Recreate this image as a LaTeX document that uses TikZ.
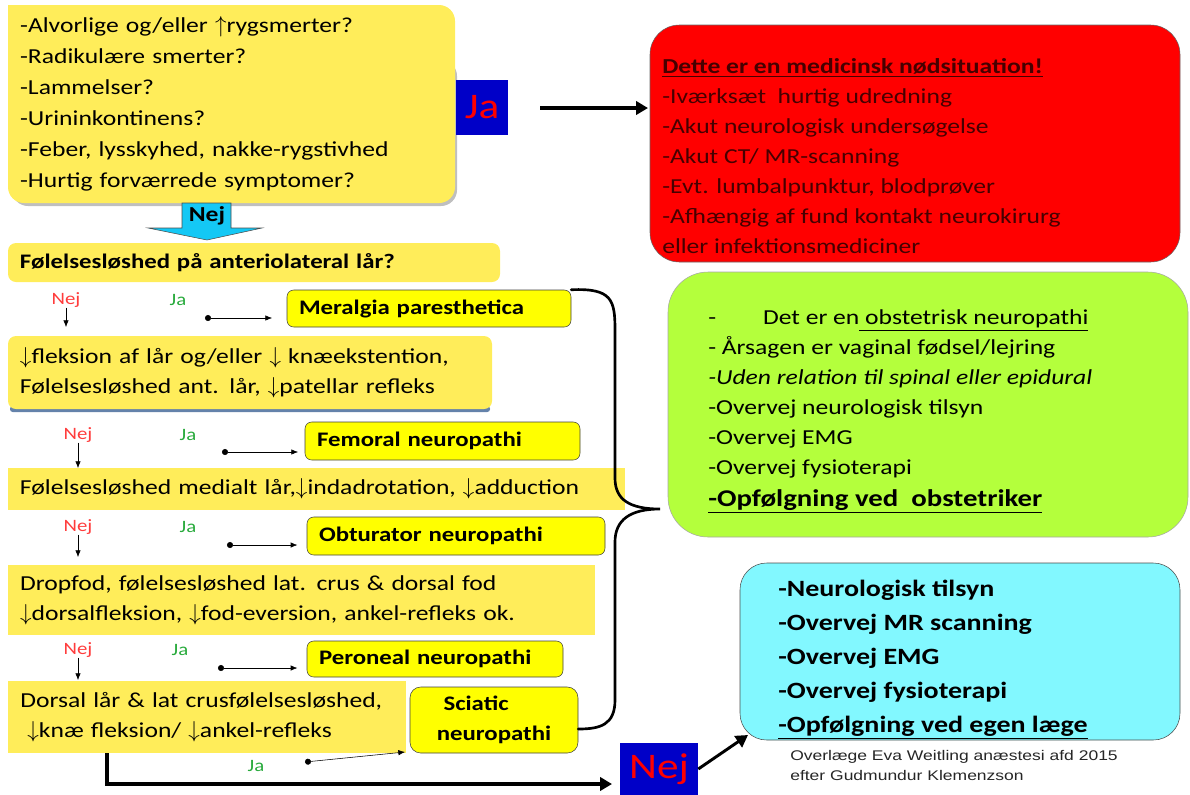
\documentclass[tikz,border=0pt]{standalone}
\usepackage{fontspec}
\setmainfont{Carlito}[FakeStretch=1.2]
\newfontfamily\footfont{Liberation Sans}[FakeStretch=1.25]
\usepackage{xcolor}
\definecolor{BandYel}{RGB}{255,237,90}
\definecolor{NeuroYel}{RGB}{255,255,0}
\definecolor{AlarmRed}{RGB}{255,0,0}
\definecolor{AlarmText}{RGB}{70,0,0}
\definecolor{ObstLime}{RGB}{180,255,60}
\definecolor{FollowCyan}{RGB}{130,248,255}
\definecolor{ArrowCyan}{RGB}{20,200,245}
\definecolor{AnsBlue}{RGB}{0,0,200}
\definecolor{NejRed}{RGB}{255,60,60}
\definecolor{JaGreen}{RGB}{40,170,60}
\definecolor{ShadowBlue}{RGB}{100,130,170}
\usepackage{tikz}
\usetikzlibrary{arrows.meta}
\tikzstyle{Band}=[fill=BandYel,inner xsep=9pt,inner ysep=0pt,align=left,
font=\fontsize{16}{22.5}\selectfont]
\tikzstyle{Neuro}=[fill=NeuroYel,draw=black!75,rounded corners=5pt,
inner xsep=9pt,inner ysep=0pt,align=left,font=\bfseries\fontsize{15.5}{22.5}\selectfont]
\tikzstyle{Answer}=[fill=AnsBlue,text=AlarmRed,inner sep=0pt,
font=\fontsize{27}{30}\selectfont]
\tikzstyle{NejLbl}=[text=NejRed,inner sep=0pt,font=\fontsize{13}{15}\selectfont]
\tikzstyle{JaLbl}=[text=JaGreen,inner sep=0pt,font=\fontsize{13}{15}\selectfont]
\tikzstyle{BoxText}=[inner sep=0pt,align=left,anchor=west]
\tikzstyle{Edge}=[draw=black,thin,-{Latex[length=5pt,width=4pt]}]
\tikzstyle{DotEdge}=[draw=black,thin,{Circle[length=4.5pt]}-{Latex[length=5pt,width=4pt]}]
\tikzstyle{BigEdge}=[draw=black,line width=2.4pt,-{Triangle[length=9pt,width=10pt]}]
\tikzstyle{Brace}=[draw=black,line width=2pt,line cap=round]

\begin{document}
\begin{tikzpicture}[x=0.75pt,y=-0.75pt]
        \useasboundingbox (0,0) rectangle (1190,794);
        % first question
        \fill[black!25,rounded corners=12pt](12,60)rectangle(457,206);
        \fill[BandYel](8,5)rectangle(60,60);
        \node[Band,rounded corners=12pt,minimum width=335.25pt,minimum height=148.5pt,
            text width=317pt,font=\fontsize{16}{23.25}\selectfont](q)at(231.5,104){%
            -Alvorlige og/eller $\uparrow$rygsmerter?\\-Radikulære smerter?\\-Lammelser?\\
            -Urininkontinens?\\-Feber, lysskyhed, nakke-rygstivhed\\-Hurtig forværrede symptomer?};
        \node[Answer,minimum width=39pt,minimum height=41.25pt](ja)at(482,107.5){Ja};
        % emergency
        \node[fill=AlarmRed,draw=black!60,rounded corners=22pt,minimum width=397.5pt,
            minimum height=177.75pt](alarm)at(915,143.5){};
        \node[BoxText,text=AlarmText,font=\fontsize{16}{22.5}\selectfont](alarmtxt)at(662,156){%
            \textbf{\underline{Dette er en medicinsk nødsituation!}}\\-Iværksæt\ \ hurtig udredning\\
            -Akut neurologisk undersøgelse\\-Akut CT/ MR-scanning\\-Evt. lumbalpunktur, blodprøver\\
            -Afhængig af fund kontakt neurokirurg\\eller infektionsmediciner};
        \coordinate(jaout)at(540,108);
        \coordinate(alarmin)at(648,108);
        \draw[BigEdge](jaout)--(alarmin);
        % nej block arrow
        \filldraw[fill=ArrowCyan,draw=black!70](182,203)--(231,203)--(231,228)--(262,228)
            --(207,240)--(148,228)--(182,228)--cycle;
        \node[inner sep=0pt,font=\bfseries\fontsize{16}{18}\selectfont](nejq)at(207,216){Nej};
        % questions
        \node[Band,rounded corners=6pt,minimum width=369pt,minimum height=29.25pt,
            text width=351pt,font=\bfseries\fontsize{15.5}{22.5}\selectfont](b1)at(254,262.5){%
            Følelsesløshed på anteriolateral lår?};
        \fill[ShadowBlue,rounded corners=2pt](10,406)rectangle(490,412);
        \node[Band,rounded corners=6pt,minimum width=363pt,minimum height=54.75pt,
            text width=345pt](b2)at(250,372.5){%
            $\downarrow$fleksion af lår og/eller $\downarrow$ knæekstention,\\
            Følelsesløshed ant. lår, $\downarrow$patellar refleks};
        \node[Band,minimum width=462.75pt,minimum height=31.5pt,text width=444.75pt](b3)at(316.5,489){%
            Følelsesløshed medialt lår,$\downarrow$indadrotation, $\downarrow$adduction};
        \node[Band,minimum width=440.25pt,minimum height=52.5pt,text width=422pt](b4)at(301.5,600){%
            Dropfod, følelsesløshed lat. crus \& dorsal fod\\
            $\downarrow$dorsalfleksion, $\downarrow$fod-eversion, ankel-refleks ok.};
        \node[Band,minimum width=298.5pt,minimum height=54pt,text width=280pt](b5)at(207,717){%
            Dorsal lår \& lat crusfølelsesløshed,\\
            \ $\downarrow$knæ fleksion/ $\downarrow$ankel-refleks};
        % diagnoses
        \node[Neuro,minimum width=213pt,minimum height=27.75pt,text width=195pt](mer)at(429,308.5){%
            Meralgia paresthetica};
        \node[Neuro,minimum width=206.25pt,minimum height=28.5pt,text width=188pt](fem)at(442.5,441){%
            Femoral neuropathi};
        \node[Neuro,minimum width=223.5pt,minimum height=28.5pt,text width=205.5pt](obt)at(456,536){%
            Obturator neuropathi};
        \node[Neuro,minimum width=192pt,minimum height=27pt,text width=174pt](per)at(435,659){%
            Peroneal neuropathi};
        \node[Neuro,rounded corners=8pt,minimum width=126pt,minimum height=49.5pt](sci)at(494,720){%
            \hspace*{5pt}Sciatic\\neuropathi};
        % answers
        \node[NejLbl](n1)at(66,300){Nej};
        \node[JaLbl](j1)at(178,300){Ja};
        \node[NejLbl](n2)at(78,435){Nej};
        \node[JaLbl](j2)at(188,435){Ja};
        \node[NejLbl](n3)at(78,527){Nej};
        \node[JaLbl](j3)at(188,527){Ja};
        \node[NejLbl](n4)at(78,650){Nej};
        \node[JaLbl](j4)at(180,650){Ja};
        \node[JaLbl](j5)at(256,766){Ja};
        \draw[Edge](n1.south)--(66,327);
        \draw[Edge](n2.south)--(78,468);
        \draw[Edge](n3.south)--(78,557);
        \draw[Edge](n4.south)--(78,680);
        \coordinate(d1)at(205,318);
        \coordinate(d2)at(222,452);
        \coordinate(d3)at(227,545);
        \coordinate(d4)at(218,668);
        \coordinate(d5)at(305,762);
        \draw[DotEdge,shorten >=11pt](d1)--(d1-|mer.west);
        \draw[DotEdge,shorten >=5pt](d2)--(d2-|fem.west);
        \draw[DotEdge,shorten >=7pt](d3)--(d3-|obt.west);
        \draw[DotEdge,shorten >=7pt](d4)--(d4-|per.west);
        \coordinate(s5)at(405,752);
        \draw[DotEdge](d5)--(s5);
        % brace
        \draw[Brace](mer.north east)..controls(612,288)and(615,300)..(615,330)--(615,478)
            ..controls(615,500)and(630,509)..(660,509)
            ..controls(630,509)and(615,520)..(615,542)--(615,700)
            ..controls(615,725)and(600,729)..(sci.east|-0,729);
        % obstetric
        \node[fill=ObstLime,draw=black!35,rounded corners=30pt,minimum width=390pt,
            minimum height=198.75pt](obst)at(928,404.5){};
        \node[BoxText,font=\fontsize{16}{22.5}\selectfont](obsttxt)at(708,411.5){%
            -\hspace{2.2em}Det er en\underline{ obstetrisk neuropathi}\\
            - Årsagen er vaginal fødsel/lejring\\
            \textit{-Uden relation til spinal eller epidural}\\
            -Overvej neurologisk tilsyn\\-Overvej EMG\\-Overvej fysioterapi\\[1pt]
            {\bfseries\fontsize{18}{22.5}\selectfont\underline{-Opfølgning ved\ \ obstetriker}}};
        % nej route
        \coordinate(b5out)at(107,753);
        \coordinate(nejin)at(612,784);
        \draw[BigEdge,line width=3pt](b5out)|-(nejin);
        \node[Answer,minimum width=58.5pt,minimum height=39pt](nej)at(659,769){Nej};
        \node[fill=FollowCyan,draw=black!70,rounded corners=20pt,minimum width=330pt,
            minimum height=132.75pt](follow)at(960,651.5){};
        \node[BoxText,font=\bfseries\fontsize{17.5}{25.5}\selectfont](followtxt)at(778,659.5){%
            -Neurologisk tilsyn\\-Overvej MR scanning\\-Overvej EMG\\-Overvej fysioterapi\\
            \underline{-Opfølgning ved egen læge}};
        \coordinate(followin)at(748,735);
        \draw[BigEdge,line width=2.2pt](nej.east)--(followin);
        \node[BoxText,text=black!85,font=\footfont\fontsize{10.5}{15}\selectfont](credit)at(790,765){%
            Overlæge Eva Weitling anæstesi afd 2015\\efter Gudmundur Klemenzson};
    \end{tikzpicture}
\end{document}
